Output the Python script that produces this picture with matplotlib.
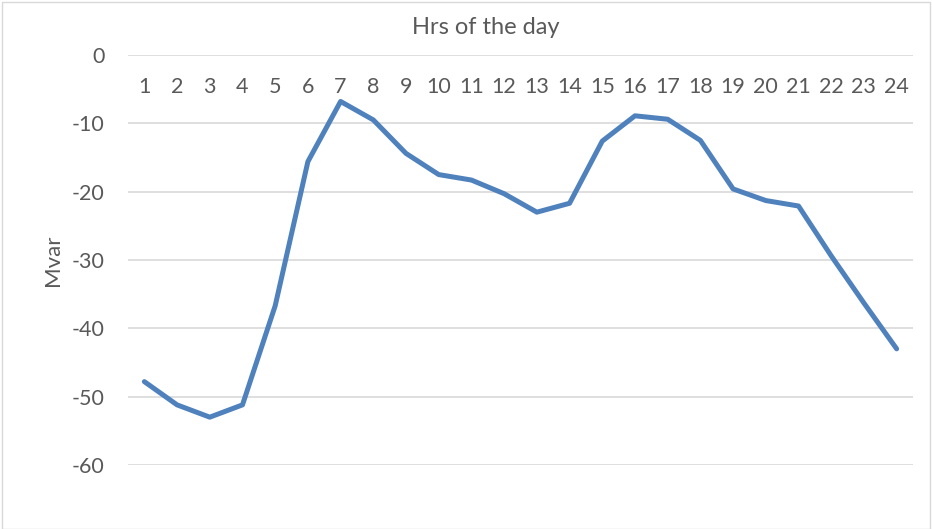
import matplotlib.pyplot as plt
from matplotlib.patches import Rectangle

# Reactive power by hour of the day
hours = list(range(1, 25))
mvar = [-47.8, -51.2, -53.0, -51.2, -36.7, -15.6, -6.8, -9.5, -14.4, -17.5, -18.3, -20.3,
        -23.0, -21.7, -12.6, -8.9, -9.4, -12.5, -19.6, -21.3, -22.1, -29.4, -36.3, -43.0]
y_ticks = [0, -10, -20, -30, -40, -50, -60]

plt.rcParams['font.family'] = ['Lato', 'DejaVu Sans']
grey = '#595959'

fig = plt.figure(figsize=(9.32, 5.29), dpi=100)
ax = fig.add_axes([128/932, 1 - 465/529, (913-128)/932, (465-55)/529])

ax.plot(hours, mvar, color='#4F81BD', linewidth=3.6, solid_capstyle='round', zorder=3)

ax.set_xlim(0.5, 24.5)
ax.set_ylim(-60, 0)
ax.set_yticks(y_ticks)
ax.set_yticklabels([str(v) for v in y_ticks])
ax.set_xticks(hours)
ax.set_xticklabels([str(h) for h in hours])

ax.xaxis.tick_top()
ax.tick_params(axis='x', length=0, pad=-30, labelsize=15.5, labelcolor=grey)
ax.tick_params(axis='y', length=0, pad=17, labelsize=15.5, labelcolor=grey)
ax.yaxis.grid(True, color='#D9D9D9', linewidth=1.2)
ax.set_axisbelow(True)
for s in ax.spines.values():
    s.set_visible(False)

ax.set_ylabel('Mvar', fontsize=16, color=grey, labelpad=6)
fig.text(486/932, 1 - 28/529, 'Hrs of the day', fontsize=17, color=grey, ha='center', va='center')

# light chart border
fig.patches.append(Rectangle((2/932, 0), 928/932, 1 - 2/529, transform=fig.transFigure,
                             fill=False, edgecolor='#D9D9D9', linewidth=1))

fig.savefig('out.png', dpi=100)
